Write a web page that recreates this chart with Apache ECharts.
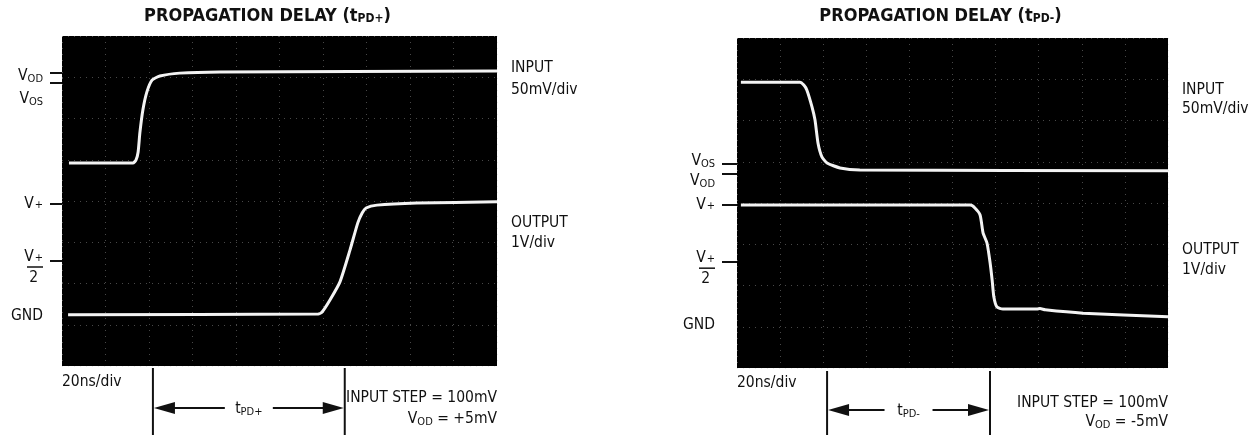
<!DOCTYPE html>
<html>
<head>
<meta charset="utf-8">
<script src="https://cdn.jsdelivr.net/npm/echarts@6/dist/echarts.min.js"></script>
<style>html,body{margin:0;padding:0;background:#fff;}#c{width:1254px;height:440px;}</style>
</head>
<body>
<div id="c"></div>
<script>
// ---------- data (time in divisions of 20ns, level in graticule divisions) ----------
const plusInput = [[0.16,4.92],[1.63,4.92],[1.70,4.99],[1.75,5.19],[1.79,5.65],[1.86,6.21],[1.95,6.64],[2.07,6.93],[2.25,7.03],[2.71,7.10],[3.63,7.13],[10,7.15]];
const plusOutput = [[0.14,1.24],[5.89,1.26],[5.98,1.31],[6.16,1.60],[6.39,2.04],[6.62,2.81],[6.80,3.47],[6.90,3.71],[6.99,3.83],[7.24,3.90],[8.16,3.95],[10,3.98]];
const minusInput = [[0.09,6.93],[1.46,6.93],[1.55,6.86],[1.62,6.74],[1.74,6.33],[1.81,6.01],[1.88,5.45],[1.97,5.12],[2.09,4.97],[2.39,4.85],[2.85,4.80],[10,4.78]];
const minusOutput = [[0.09,3.95],[5.41,3.95],[5.52,3.88],[5.64,3.71],[5.71,3.27],[5.80,3.03],[5.87,2.57],[5.92,2.13],[5.96,1.72],[6.03,1.48],[6.17,1.43],[6.96,1.43],[7.03,1.44],[7.15,1.41],[8.03,1.33],[10,1.24]];

const plusTickValues = [7.10, 6.86, 3.93, 2.55];
const plusLabelValues = [7.03, 6.47, 3.93, 2.40, 1.21];
const plusLabels = ['{v|V}{s|OD}', '{v|V}{s|OS}', '{v|V}{p|+}', '{fv|V}{fp|+}\n{bar|}\n{fd|2}', '{v|GND}'];

const minusTickValues = [4.95, 4.70, 3.95, 2.57];
const minusLabelValues = [5.02, 4.53, 3.95, 2.42, 1.04];
const minusLabels = ['{v|V}{s|OS}', '{v|V}{s|OD}', '{v|V}{p|+}', '{fv|V}{fp|+}\n{bar|}\n{fd|2}', '{v|GND}'];

const plusMarkers = [2.09, 6.50];
const minusMarkers = [2.09, 5.87];

const titles = ['{tb|PROPAGATION DELAY (t}{ts|PD+}{tb|)}', '{tb|PROPAGATION DELAY (t}{ts|PD-}{tb|)}'];
const delayLabels = ['{t|t}{ts|PD+}', '{t|t}{ts|PD-}'];
const stepText = ['INPUT STEP = 100mV', 'INPUT STEP = 100mV'];
const vodText = ['{t|V}{ts|OD}{t| = +5mV}', '{t|V}{ts|OD}{t| = -5mV}'];
const sideLabels = [['INPUT', '50mV/div', 'OUTPUT', '1V/div'], ['INPUT', '50mV/div', 'OUTPUT', '1V/div']];

// ---------- styling / layout ----------
const INK = '#111';
const FONT = "'DejaVu Sans Condensed', 'Liberation Sans Narrow', sans-serif";
const TFONT = "'DejaVu Sans Condensed', 'Liberation Sans Narrow', sans-serif";
const FS = 15.5, SFS = 11;
const GRIDS = [
  {left: 62, top: 36, width: 435, height: 330},
  {left: 737, top: 38, width: 431, height: 330}
];
const LAYOUT = [
  {tick: 12, margin: 19, markTop: 2, arrowDy: 42, divDy: 16, stepDy: 32, vodDy: 53, side: [68, 90, 223, 243]},
  {tick: 15, margin: 22, markTop: 3, arrowDy: 42, divDy: 15, stepDy: 35, vodDy: 54, side: [90, 109, 250, 270]}
];

const RICH = {
  v: {fontFamily: FONT, fontSize: FS, color: INK},
  s: {fontFamily: FONT, fontSize: SFS, color: INK, padding: [7, 0, 0, 0]},
  p: {fontFamily: FONT, fontSize: SFS, color: INK, padding: [3, 0, 0, 1]},
  fv: {fontFamily: FONT, fontSize: FS, color: INK, lineHeight: 17},
  fp: {fontFamily: FONT, fontSize: SFS, color: INK, lineHeight: 17, padding: [3, 0, 0, 1]},
  bar: {width: 16, height: 1.5, lineHeight: 4, backgroundColor: INK},
  fd: {fontFamily: FONT, fontSize: FS, color: INK, lineHeight: 17, width: 16, align: 'center'}
};
const TRICH = {
  tb: {fontFamily: TFONT, fontWeight: 'bold', fontSize: 18, color: INK},
  ts: {fontFamily: TFONT, fontWeight: 'bold', fontSize: 12, color: INK, padding: [6, 0, 0, 0]}
};
const ARICH = {
  t: {fontFamily: FONT, fontSize: FS, color: INK},
  ts: {fontFamily: FONT, fontSize: SFS, color: INK, padding: [7, 0, 0, 0]}
};

function labelFor(values, labels) {
  return function (v) {
    let best = 0, d = Infinity;
    values.forEach(function (x, i) { const e = Math.abs(x - v); if (e < d) { d = e; best = i; } });
    return labels[best];
  };
}

const gridSplit = {show: true, lineStyle: {color: 'rgba(200,200,200,0.36)', width: 1, type: [1, 5]}};

function xAxisFor(i) {
  return {gridIndex: i, type: 'value', min: 0, max: 10, interval: 1,
    axisLine: {show: false}, axisTick: {show: false}, axisLabel: {show: false}, splitLine: gridSplit};
}
function ySplitFor(i) {
  return {gridIndex: i, type: 'value', min: 0, max: 8, interval: 1,
    axisLine: {show: false}, axisTick: {show: false}, axisLabel: {show: false}, splitLine: gridSplit};
}
function yLabelFor(i, tickVals, labelVals, labels) {
  return {gridIndex: i, type: 'value', min: 0, max: 8, position: 'left',
    axisLine: {show: false},
    axisTick: {show: true, inside: false, length: LAYOUT[i].tick, customValues: tickVals, lineStyle: {color: INK, width: 2}},
    axisLabel: {show: true, customValues: labelVals, margin: LAYOUT[i].margin, align: 'right', verticalAlign: 'middle',
      formatter: labelFor(labelVals, labels), rich: RICH},
    splitLine: {show: false}};
}
function traceSeries(xi, yi, data) {
  return {type: 'line', xAxisIndex: xi, yAxisIndex: yi, data: data, showSymbol: false, symbol: 'none',
    smooth: 0.2, clip: true, silent: true,
    lineStyle: {color: '#f3f3f3', width: 3}};
}

const chart = echarts.init(document.getElementById('c'), null, {renderer: 'canvas', width: 1254, height: 440});
chart.setOption({
  animation: false,
  backgroundColor: '#fff',
  grid: GRIDS.map(function (g) { return Object.assign({show: true, backgroundColor: '#000', borderWidth: 0, containLabel: false}, g); }),
  xAxis: [xAxisFor(0), xAxisFor(1)],
  yAxis: [ySplitFor(0), yLabelFor(0, plusTickValues, plusLabelValues, plusLabels),
          ySplitFor(1), yLabelFor(1, minusTickValues, minusLabelValues, minusLabels)],
  series: [traceSeries(0, 0, plusInput), traceSeries(0, 0, plusOutput),
           traceSeries(1, 2, minusInput), traceSeries(1, 2, minusOutput)]
});

function txt(x, y, text, rich, align) {
  return {type: 'text', x: x, y: y, silent: true,
    style: {text: text, rich: rich, fontFamily: FONT, fontSize: FS, fill: INK,
      align: align || 'left', verticalAlign: 'middle', textAlign: align || 'left', textVerticalAlign: 'middle'}};
}

const graphics = [];
[plusMarkers, minusMarkers].forEach(function (marks, i) {
  const g = GRIDS[i], L = LAYOUT[i];
  const bottom = g.top + g.height, right = g.left + g.width;
  const x1 = chart.convertToPixel({xAxisIndex: i}, marks[0]);
  const x2 = chart.convertToPixel({xAxisIndex: i}, marks[1]);
  const ay = bottom + L.arrowDy;
  graphics.push(txt(g.left + g.width / 2 - 12, 16, titles[i], TRICH, 'center'));
  L.side.forEach(function (yy, k) { graphics.push(txt(right + 14, yy, sideLabels[i][k], ARICH, 'left')); });
  graphics.push(txt(g.left, bottom + L.divDy, '20ns/div', ARICH, 'left'));
  [x1, x2].forEach(function (x) {
    graphics.push({type: 'line', silent: true, shape: {x1: x, y1: bottom + L.markTop, x2: x, y2: 435}, style: {stroke: INK, lineWidth: 2}});
  });
  const mid = (x1 + x2) / 2, head = 22, hh = 6, gap = 24;
  graphics.push({type: 'line', silent: true, shape: {x1: x1 + head - 2, y1: ay, x2: mid - gap, y2: ay}, style: {stroke: INK, lineWidth: 2}});
  graphics.push({type: 'line', silent: true, shape: {x1: mid + gap, y1: ay, x2: x2 - head + 2, y2: ay}, style: {stroke: INK, lineWidth: 2}});
  graphics.push({type: 'polygon', silent: true, shape: {points: [[x1 + 1, ay], [x1 + head, ay - hh], [x1 + head, ay + hh]]}, style: {fill: INK}});
  graphics.push({type: 'polygon', silent: true, shape: {points: [[x2 - 1, ay], [x2 - head, ay - hh], [x2 - head, ay + hh]]}, style: {fill: INK}});
  graphics.push(txt(mid, ay + 1, delayLabels[i], ARICH, 'center'));
  graphics.push(txt(right, bottom + L.stepDy, stepText[i], ARICH, 'right'));
  graphics.push(txt(right, bottom + L.vodDy, vodText[i], ARICH, 'right'));
});
chart.setOption({graphic: {elements: graphics}});
</script>
</body>
</html>
